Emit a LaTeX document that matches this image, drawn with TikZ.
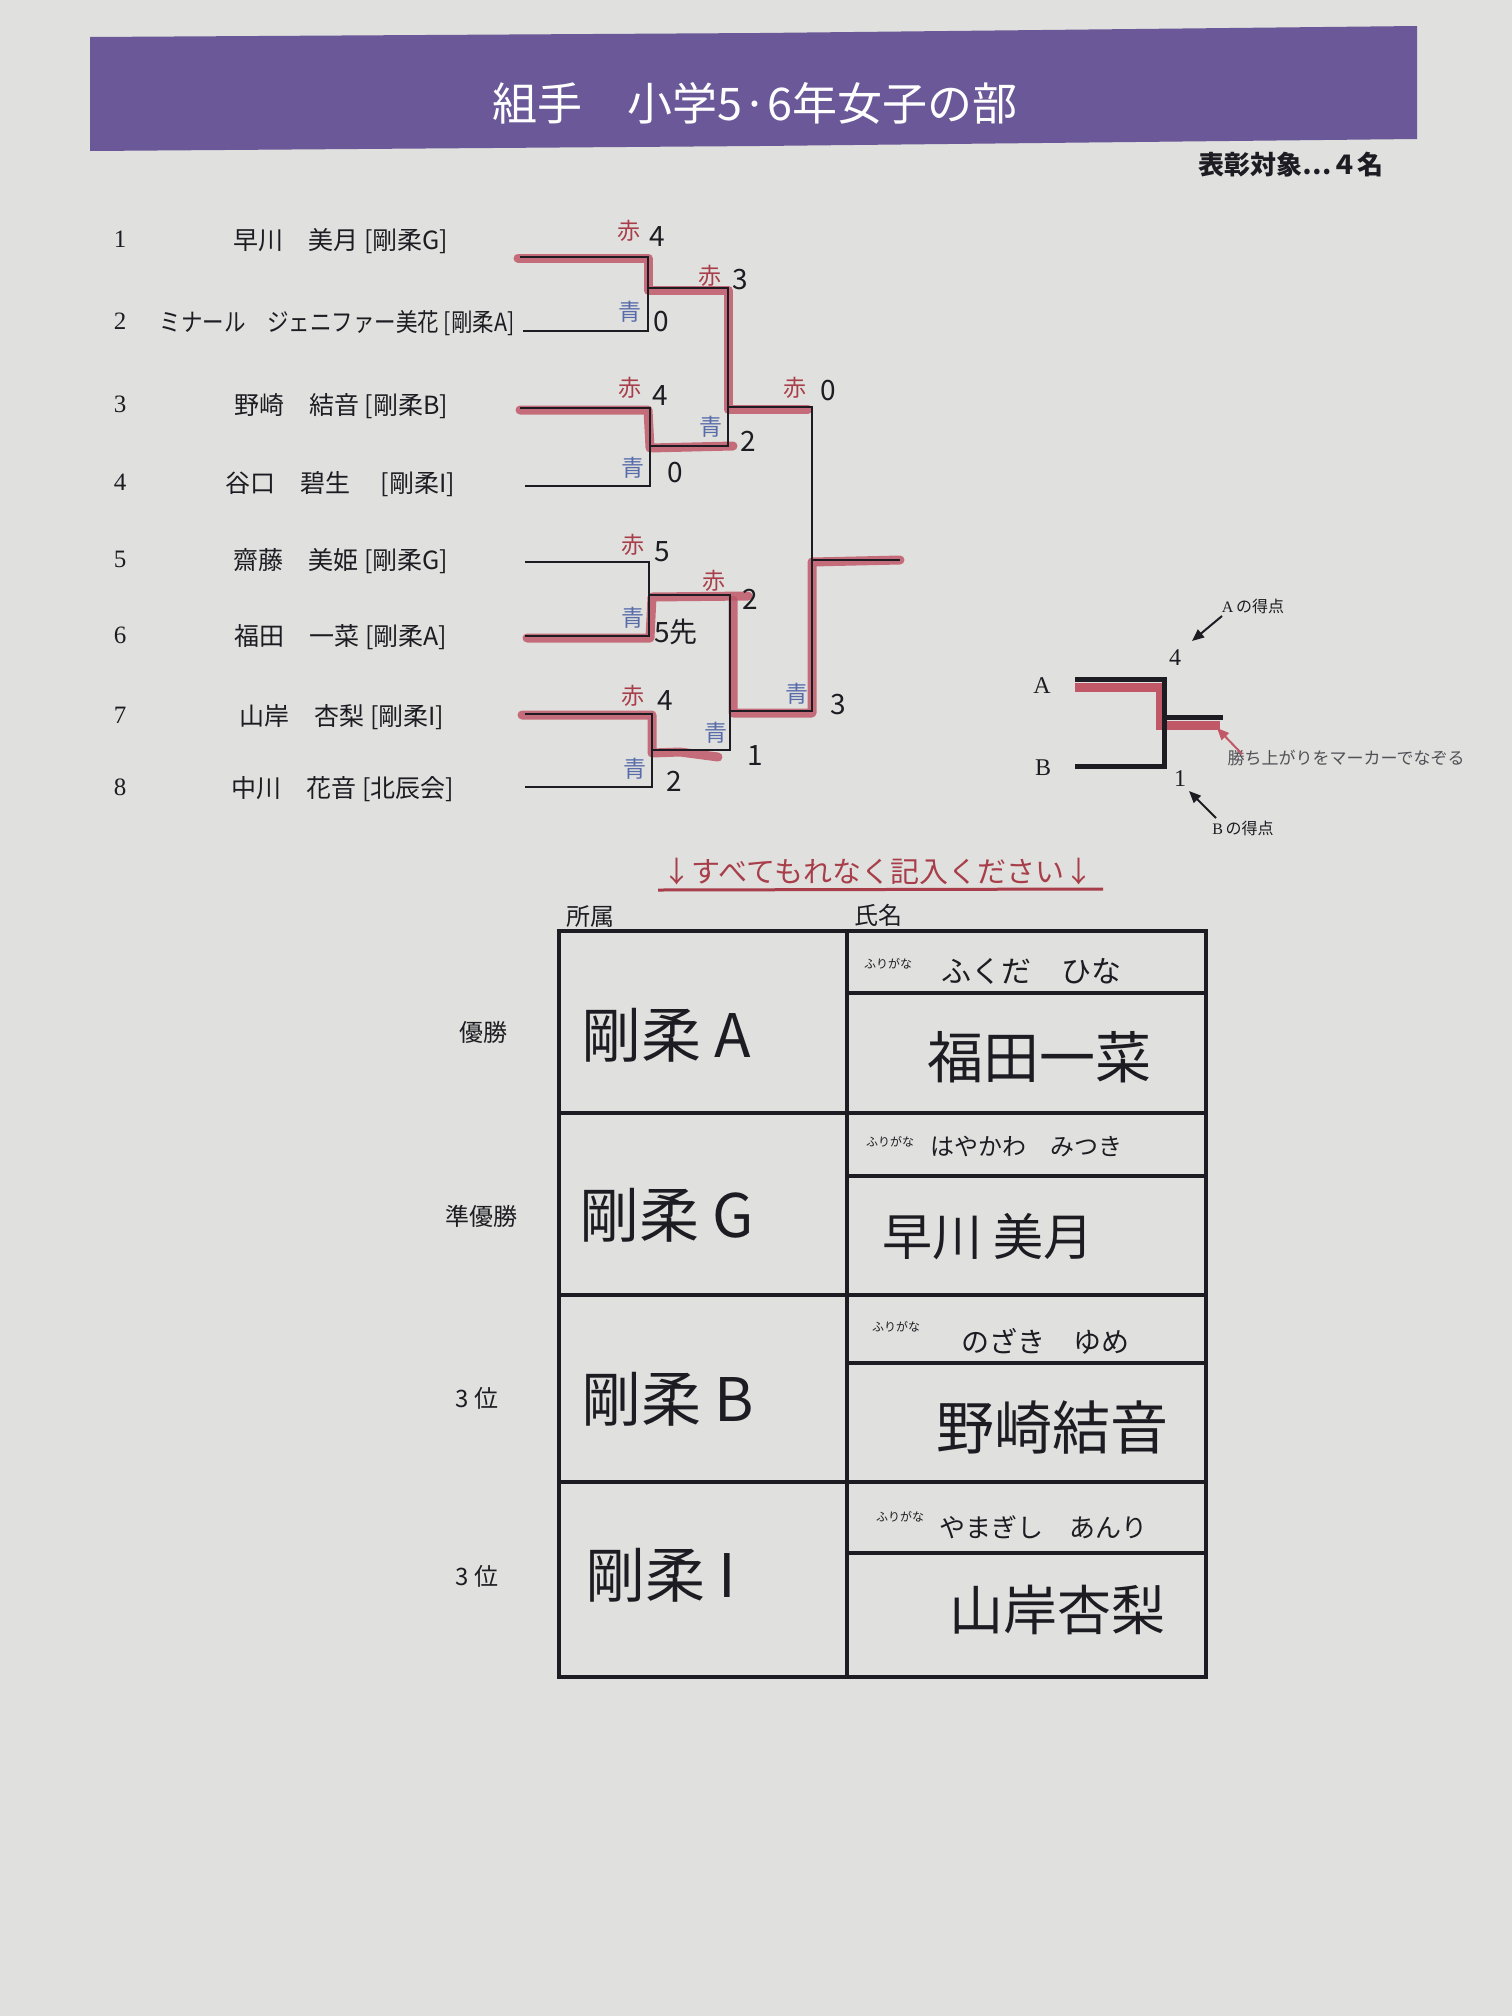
\documentclass[tikz,border=0pt]{standalone}
\usepackage{graphicx}
\usepackage{fontspec}
\setmainfont{Noto Sans CJK JP}
\newfontfamily\serifnum{Liberation Serif}
\usetikzlibrary{arrows.meta}
\definecolor{paper}{RGB}{224,225,222}
\definecolor{band}{RGB}{106,88,152}
\definecolor{marker}{RGB}{192,88,104}
\definecolor{akaText}{RGB}{168,62,74}
\definecolor{aoText}{RGB}{88,108,170}
\definecolor{ink}{RGB}{28,28,34}
\definecolor{greytxt}{RGB}{80,80,86}
\newcommand{\myfs}[1]{\fontsize{#1}{#1}\selectfont}
\begin{document}
\begin{tikzpicture}[x=1pt,y=-1pt,
  bline/.style={ink, line width=2.4pt},
  hl/.style={marker, line width=9pt, line cap=round, line join=round, opacity=0.85},
  tbl/.style={ink, line width=3.2pt},
  aka/.style={text=akaText, font=\myfs{23}, inner sep=0pt},
  ao/.style={text=aoText, font=\myfs{23}, inner sep=0pt},
  score/.style={text=ink, font=\myfs{28}, inner sep=0pt},
  num/.style={text=ink, font=\serifnum\myfs{25}, inner sep=0pt},
  pname/.style={text=ink, font=\myfs{25}, inner sep=0pt},
  label/.style={text=ink, font=\myfs{24}, inner sep=0pt},
  hand/.style={text=ink, inner sep=0pt},
  furi/.style={text=ink, font=\myfs{12}, inner sep=0pt},
  legend/.style={text=ink, font=\serifnum\myfs{24}, inner sep=0pt},
  legtxt/.style={text=greytxt, font=\myfs{17}, inner sep=0pt},
  arr/.style={ink, line width=2pt, -{Triangle[length=12pt,width=10pt]}}
]
\useasboundingbox (0,0) rectangle (1512,2016);
\fill[paper] (0,0) rectangle (1512,2016);

% header
\fill[band] (90,37) -- (760,33) -- (1417,26) -- (1417,139) -- (760,146) -- (90,151) -- cycle;
\node[white, font=\myfs{45}, inner sep=0pt] (title) at (755,103) {組手　小学5·6年女子の部};
\node[text=ink, font=\myfs{26}\bfseries, inner sep=0pt] (award) at (1291,165) {表彰対象…４名};

% row numbers and names
\foreach \i/\y in {1/239,2/321,3/404,4/482,5/559,6/635,7/715,8/787}{
  \node[num] (n\i) at (120,\y) {\i};
}
\node[pname] (p1) at (341,241) {早川　美月 [剛柔G]};
\node[pname] (p2) at (337,323) {\scalebox{0.86}[1]{ミナール　ジェニファー美花 [剛柔A]}};
\node[pname] (p3) at (341,406) {野崎　結音 [剛柔B]};
\node[pname] (p4) at (340,484) {谷口　碧生　 [剛柔I]};
\node[pname] (p5) at (341,561) {齋藤　美姫 [剛柔G]};
\node[pname] (p6) at (341,637) {福田　一菜 [剛柔A]};
\node[pname] (p7) at (342,717) {山岸　杏梨 [剛柔I]};
\node[pname] (p8) at (343,789) {中川　花音 [北辰会]};

% bracket coordinates
\coordinate (a1) at (520,257); \coordinate (a2) at (523,331);
\coordinate (a3) at (520,408); \coordinate (a4) at (525,486);
\coordinate (a5) at (525,562); \coordinate (a6) at (525,636);
\coordinate (a7) at (525,714); \coordinate (a8) at (525,787);
\coordinate (j1t) at (648,257); \coordinate (j1b) at (648,331); \coordinate (j1o) at (648,288);
\coordinate (j2t) at (650,408); \coordinate (j2b) at (650,486); \coordinate (j2o) at (650,446);
\coordinate (j3t) at (649,562); \coordinate (j3b) at (649,636); \coordinate (j3o) at (649,595);
\coordinate (j4t) at (652,714); \coordinate (j4b) at (652,787); \coordinate (j4o) at (652,750);
\coordinate (s1t) at (728,288); \coordinate (s1b) at (728,446); \coordinate (s1o) at (728,407);
\coordinate (s2t) at (730,595); \coordinate (s2b) at (730,750); \coordinate (s2o) at (730,711);
\coordinate (ft) at (812,407); \coordinate (fb) at (812,711); \coordinate (fo) at (812,560);
\coordinate (fend) at (900,560);

% marker highlights
\draw[hl] (518,258) -- (648,258) -- (648,290) -- (728,290) -- (728,409) -- (808,409);
\draw[hl] (520,410) -- (648,410) -- (650,448) -- (733,446);
\draw[hl] (527,638) -- (650,638) -- (652,597) -- (748,596);
\draw[hl] (733,600) -- (733,713) -- (812,713) -- (812,562) -- (900,560);
\draw[hl] (522,715) -- (652,715) -- (652,753) -- (680,752) -- (718,757);

% bracket lines
\draw[bline] (a1) -- (j1t) -- (j1b) -- (a2);
\draw[bline] (a3) -- (j2t) -- (j2b) -- (a4);
\draw[bline] (a5) -- (j3t) -- (j3b) -- (a6);
\draw[bline] (a7) -- (j4t) -- (j4b) -- (a8);
\draw[bline] (j1o) -- (s1t) -- (s1b) -- (j2o);
\draw[bline] (j3o) -- (s2t) -- (s2b) -- (j4o);
\draw[bline] (s1o) -- (ft) -- (fb) -- (s2o);
\draw[bline] (fo) -- (fend);

% scores
\node[aka] (k1) at (629,231) {赤}; \node[score] (k1s) at (657,237) {4};
\node[ao] (b1) at (630,312) {青}; \node[score] (b1s) at (661,322) {0};
\node[aka] (k2) at (630,388) {赤}; \node[score] (k2s) at (660,396) {4};
\node[ao] (b2) at (633,468) {青}; \node[score] (b2s) at (675,473) {0};
\node[aka] (k3) at (633,545) {赤}; \node[score] (k3s) at (662,552) {5};
\node[ao] (b3) at (633,618) {青}; \node[score] (b3s) at (676,632) {5先};
\node[aka] (k4) at (633,696) {赤}; \node[score] (k4s) at (665,701) {4};
\node[ao] (b4) at (635,769) {青}; \node[score] (b4s) at (674,781) {2};
\node[aka] (k5) at (710,276) {赤}; \node[score] (k5s) at (740,280) {3};
\node[ao] (b5) at (711,427) {青}; \node[score] (b5s) at (748,441) {2};
\node[aka] (k6) at (714,581) {赤}; \node[score] (k6s) at (750,599) {2};
\node[ao] (b6) at (716,733) {青}; \node[score] (b6s) at (755,756) {1};
\node[aka] (k7) at (795,388) {赤}; \node[score] (k7s) at (828,391) {0};
\node[ao] (b7) at (797,694) {青}; \node[score] (b7s) at (838,705) {3};

% legend
\coordinate (la1) at (1075,679); \coordinate (la2) at (1164,679);
\coordinate (lb1) at (1075,766); \coordinate (lb2) at (1164,766);
\coordinate (lo1) at (1164,717); \coordinate (lo2) at (1223,717);
\draw[marker, line width=9pt] (1075,687) -- (1160,687) -- (1160,725) -- (1220,725);
\draw[ink, line width=5pt, line join=miter] (la1) -- (la2) -- (lb2) -- (lb1);
\draw[ink, line width=5pt] (lo1) -- (lo2);
\node[legend] (legA) at (1042,686) {A};
\node[legend] (legB) at (1043,768) {B};
\node[legend] (leg4) at (1175,658) {4};
\node[legend] (leg1) at (1180,779) {1};
\node[text=ink, font=\myfs{16}, inner sep=0pt] (legAt) at (1253,606) {{\serifnum A}\,の得点};
\node[text=ink, font=\myfs{16}, inner sep=0pt] (legBt) at (1243,828) {{\serifnum B}\,の得点};
\node[legtxt] (legM) at (1346,758) {勝ち上がりをマーカーでなぞる};
\draw[arr] (1222,616) -- (1192,641);
\draw[arr] (1216,818) -- (1189,791);
\draw[arr, marker] (1242,754) -- (1217,728);

% instruction
\node[text=akaText, font=\myfs{29}, inner sep=0pt] (instr) at (878,872) {↓すべてもれなく記入ください↓};
\draw[akaText, line width=3pt] (658,890) -- (1103,889);

% table
\node[label] (hShozoku) at (590,917) {所属};
\node[label] (hShimei) at (878,915) {氏名};
\draw[tbl] (559,931) rectangle (1206,1677);
\draw[tbl] (847,931) -- (847,1677);
\foreach \y in {1113,1295,1482}{ \draw[tbl] (559,\y) -- (1206,\y); }
\foreach \y in {993,1176,1363,1553}{ \draw[tbl] (847,\y) -- (1206,\y); }

\node[label] (r1) at (483,1032) {優勝};
\node[label] (r2) at (481,1216) {準優勝};
\node[label] (r3) at (477,1398) {3 位};
\node[label] (r4) at (477,1576) {3 位};

\node[hand, font=\myfs{60}, anchor=west] (c1) at (581,1035) {剛柔 A};
\node[hand, font=\myfs{60}, anchor=west] (c2) at (579,1215) {剛柔 G};
\node[hand, font=\myfs{60}, anchor=west] (c3) at (581,1399) {剛柔 B};
\node[hand, font=\myfs{60}, anchor=west] (c4) at (585,1575) {剛柔 I};

\node[furi] (f1) at (888,964) {ふりがな};
\node[furi] (f2) at (890,1142) {ふりがな};
\node[furi] (f3) at (896,1327) {ふりがな};
\node[furi] (f4) at (900,1517) {ふりがな};

\node[hand, font=\myfs{30}] (y1) at (1031,971) {ふくだ　ひな};
\node[hand, font=\myfs{24}] (y2) at (1026,1147) {はやかわ　みつき};
\node[hand, font=\myfs{28}] (y3) at (1045,1341) {のざき　ゆめ};
\node[hand, font=\myfs{26}] (y4) at (1043,1527) {やまぎし　あんり};

\node[hand, font=\myfs{56}] (m1) at (1039,1057) {福田一菜};
\node[hand, font=\myfs{50}] (m2) at (988,1237) {早川 美月};
\node[hand, font=\myfs{58}] (m3) at (1052,1427) {野崎結音};
\node[hand, font=\myfs{54}] (m4) at (1057,1610) {山岸杏梨};
\end{tikzpicture}
\end{document}
